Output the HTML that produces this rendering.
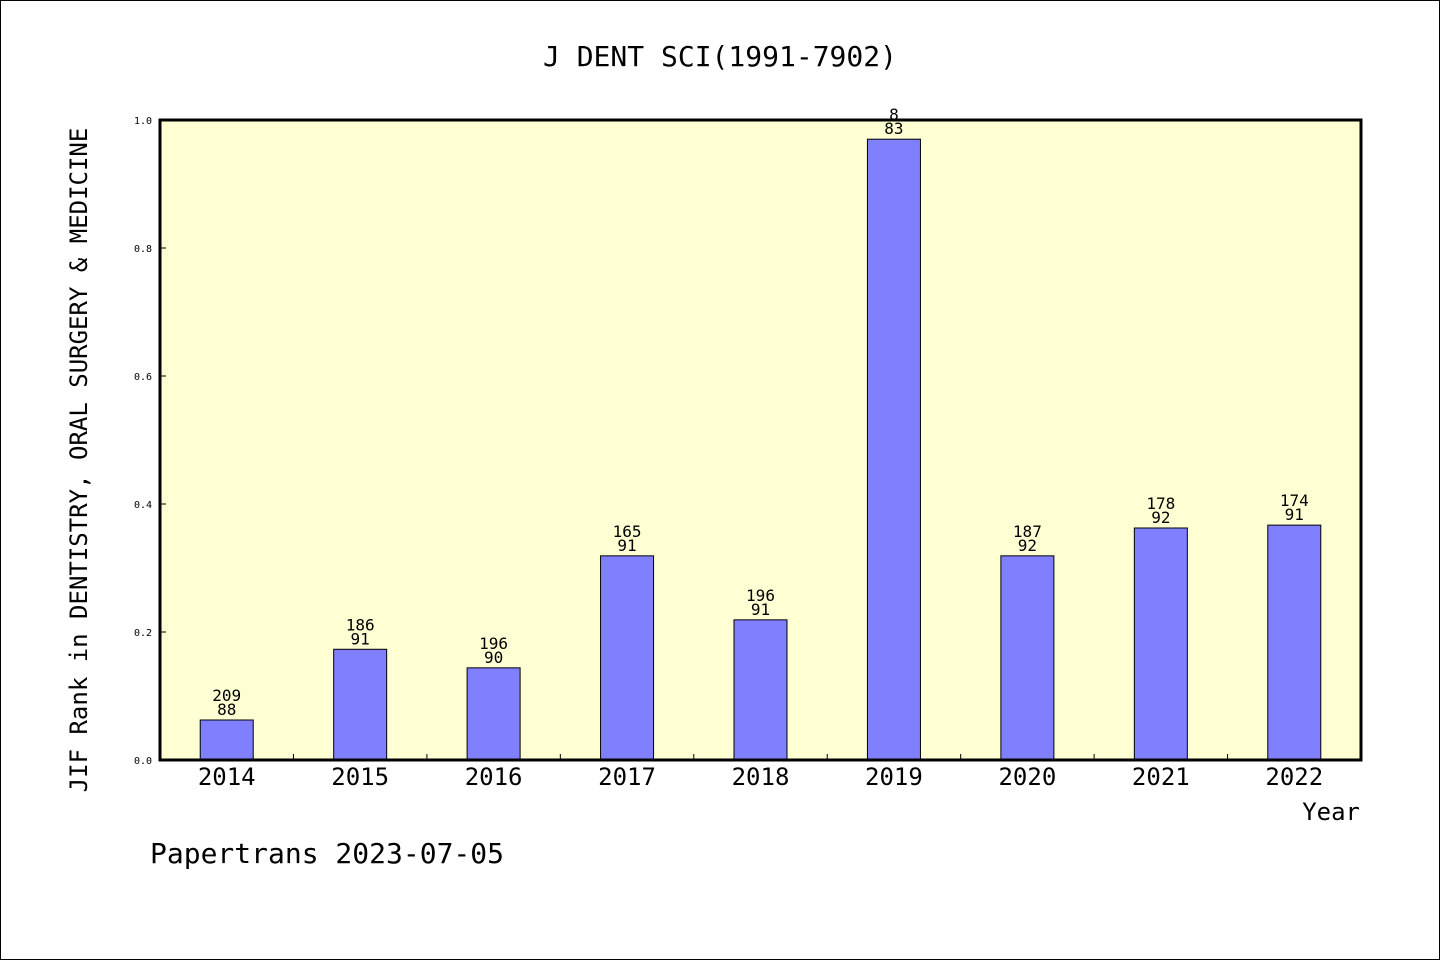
<!DOCTYPE html>
<html><head><meta charset="utf-8"><style>
body{margin:0;background:#fff}
svg{display:block;font-family:"DejaVu Sans Mono","Liberation Mono",monospace}
</style></head><body>
<svg id="chart" width="1440" height="960">
<rect x="0.5" y="0.5" width="1439" height="959" fill="#fff" stroke="#000"/>
<text x="720" y="66" text-anchor="middle" font-size="28">J DENT SCI(1991-7902)</text>
<rect x="160" y="120" width="1201" height="640" fill="#ffffd4"/>
<g id="bars"></g>
<rect x="160" y="120" width="1201" height="640" fill="none" stroke="#000" stroke-width="3"/>
<g id="axes"></g>
<text transform="translate(87,460) rotate(-90)" text-anchor="middle" font-size="24">JIF Rank in DENTISTRY, ORAL SURGERY &amp; MEDICINE</text>
<text x="1360" y="820" text-anchor="end" font-size="24">Year</text>
<text x="150" y="863" font-size="28">Papertrans 2023-07-05</text>
</svg>
<script>
const years=["2014","2015","2016","2017","2018","2019","2020","2021","2022"];
const values=[0.0625,0.173,0.144,0.319,0.219,0.970,0.319,0.3625,0.367];
const ranks=["209","186","196","165","196","8","187","178","174"];
const totals=["88","91","90","91","91","83","92","92","91"];
const yTicks=[0,0.2,0.4,0.6,0.8,1.0];
const NS="http://www.w3.org/2000/svg";
const x0=160,x1=1361,yb=760,yt=120;
const band=(x1-x0)/years.length;
const xc=i=>x0+band*(i+0.5);
const y=v=>yb-(v)*(yb-yt);
const bars=document.getElementById('bars'),axes=document.getElementById('axes');
function mk(tag,attrs,parent,txt){const e=document.createElementNS(NS,tag);for(const k in attrs)e.setAttribute(k,attrs[k]);if(txt!==undefined)e.textContent=txt;parent.appendChild(e);return e;}
years.forEach((yr,i)=>{
  const b=mk('rect',{x:xc(i)-26.5,y:y(values[i]),width:53,height:yb-y(values[i]),fill:'#8080ff',stroke:'#000','stroke-width':1},bars);
  
  
  const t1=mk('text',{x:xc(i),y:y(values[i])-19,'text-anchor':'middle','font-size':16},bars,ranks[i]);
  
  
  const t2=mk('text',{x:xc(i),y:y(values[i])-5,'text-anchor':'middle','font-size':16},bars,totals[i]);
  
  
  const xl=mk('text',{x:xc(i),y:785,'text-anchor':'middle','font-size':24},axes,yr);
  
  
  if(i>0){const tk=mk('line',{x1:x0+band*i,x2:x0+band*i,y1:yb,y2:yb-6,stroke:'#000'},axes);
    
    }
});
yTicks.forEach(v=>{
  const l=mk('text',{x:152,y:y(v)+4,'text-anchor':'end','font-size':10},axes,v.toFixed(1));
  
  
  const tk=mk('line',{x1:160,x2:166,y1:y(v),y2:y(v),stroke:'#000'},axes);
  
  
});
</script>
</body></html>
